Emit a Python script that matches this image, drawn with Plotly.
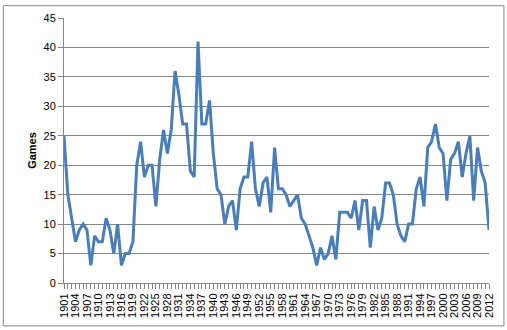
import plotly.graph_objects as go

years = list(range(1901, 2013))
games = [25, 15, 11, 7, 9, 10, 9, 3, 8, 7,
         7, 11, 9, 5, 10, 3, 5, 5, 7, 20,
         24, 18, 20, 20, 13, 21, 26, 22, 26, 36,
         32, 27, 27, 19, 18, 41, 27, 27, 31, 22,
         16, 15, 10, 13, 14, 9, 16, 18, 18, 24,
         16, 13, 17, 18, 12, 23, 16, 16, 15, 13,
         14, 15, 11, 10, 8, 6, 3, 6, 4, 5,
         8, 4, 12, 12, 12, 11, 14, 9, 14, 14,
         6, 13, 9, 11, 17, 17, 15, 10, 8, 7,
         10, 10, 16, 18, 13, 23, 24, 27, 23, 22,
         14, 21, 22, 24, 18, 22, 25, 14, 23, 19,
         17, 9]
tick_labels = [str(y) if (y - 1901) % 3 == 0 else "" for y in years]
y_ticks = list(range(0, 50, 5))

fig = go.Figure()
fig.add_trace(go.Scatter(x=years, y=games, mode="lines",
                         line=dict(color="#4a7ebb", width=3)))

L, R, T, B = 63.5, 16.5, 15, 46
W, H = 507, 330
pw, ph = W - L - R, H - T - B

fig.update_layout(
    width=W, height=H,
    margin=dict(l=L, r=R, t=T, b=B, pad=0),
    paper_bgcolor="white", plot_bgcolor="white",
    showlegend=False,
    font=dict(family="Liberation Sans, Arial, sans-serif", size=11, color="black"),
    xaxis=dict(range=[1901, 2012], tickmode="array", tickvals=years, ticktext=tick_labels,
               tickangle=-90, ticks="outside", ticklen=5, tickcolor="#868686",
               showline=True, linecolor="#868686", linewidth=1, showgrid=False,
               zeroline=False, tickfont=dict(size=11)),
    yaxis=dict(range=[0, 45], tickmode="array", tickvals=y_ticks,
               ticks="outside", ticklen=5, tickcolor="#868686",
               showline=True, linecolor="#868686", linewidth=1,
               showgrid=True, gridcolor="#868686", gridwidth=1, zeroline=False,
               title=dict(text="<b>Games</b>", font=dict(size=11), standoff=4)),
    shapes=[dict(type="rect", xref="paper", yref="paper",
                 x0=(2.5 - L) / pw, x1=(W - 1.5 - L) / pw,
                 y0=(H - B - (H - 2.5)) / ph, y1=(H - B - 2.5) / ph,
                 line=dict(color="#868686", width=1), fillcolor="rgba(0,0,0,0)", layer="below")]
)

fig.write_html("out.html")
